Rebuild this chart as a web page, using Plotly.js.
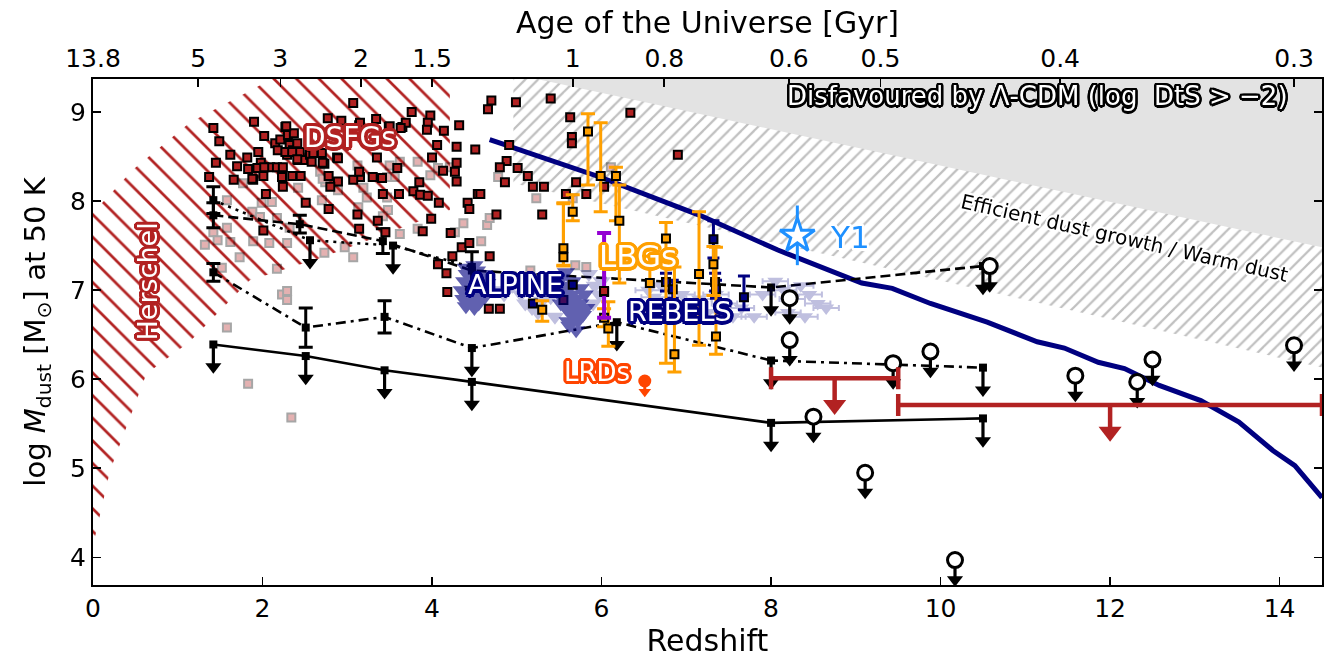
<!DOCTYPE html>
<html><head><meta charset="utf-8">
<script src="https://cdn.plot.ly/plotly-3.0.1.min.js"></script>
<style>body{margin:0;background:#fff}</style>
</head><body>
<div id="chart" style="width:1330px;height:659px"></div>
<script>
// ---------------- DATA ----------------
const ageTickZ = [0, 1.24, 2.21, 3.16, 4.0, 5.66, 6.74, 8.21, 9.29, 11.41, 14.17];
const ageTickLabels = ['13.8','5','3','2','1.5','1','0.8','0.6','0.5','0.4','0.3'];

// shaded regions (boundaries)
const disfavZ = [4.60, 14.60, 14.60];
const disfavM = [9.50, 7.46, 9.50];
const warmZ = [4.96, 14.60, 14.60, 4.96];
const warmM = [9.43, 7.46, 6.11, 8.20];
const herschelZ = [0.0, 0.47, 1.14, 2.17, 4.21, 4.21, 2.71, 1.85, 1.14, 0.63, 0.20, 0.0];
const herschelM = [7.87, 8.35, 8.88, 9.40, 9.40, 7.90, 7.37, 7.11, 6.42, 6.06, 4.97, 4.13];

// maximal dust model curve
const modelZ = [4.68, 5.98, 7.16, 8.08, 9.07, 9.43, 9.88, 10.55, 11.14, 11.46, 11.86, 12.17, 12.58, 13.07, 13.52, 13.92, 14.18, 14.5];
const modelM = [8.69, 8.27, 7.84, 7.45, 7.08, 7.02, 6.85, 6.64, 6.42, 6.35, 6.19, 6.12, 5.93, 5.76, 5.52, 5.20, 5.03, 4.67];

// stacked / population curves (err null = upper limit)
const solidZ = [1.42, 2.51, 3.44, 4.47, 8.0, 10.5];
const solidM = [6.39, 6.26, 6.10, 5.97, 5.51, 5.56];
const solidErr = [null, null, null, null, null, null];
const dashdotZ = [1.42, 2.51, 3.44, 4.47, 6.18, 8.0, 10.5];
const dashdotM = [7.20, 6.58, 6.70, 6.35, 6.64, 6.21, 6.13];
const dashdotErr = [0.10, 0.22, 0.18, null, null, null, null];
const dashedZ = [1.42, 2.44, 3.42, 4.47, 8.0, 10.5];
const dashedM = [7.84, 7.74, 7.55, 7.22, 7.03, 7.27];
const dashedErr = [0.14, 0.10, 0.14, 0.21, null, null];
const dottedZ = [1.42, 2.56, 3.54, 4.47];
const dottedM = [8.01, 7.56, 7.50, 7.26];
const dottedErr = [0.15, null, null, null];

// high-z individual upper limits (open circles)
const circZ = [8.22, 8.22, 8.50, 9.11, 9.44, 9.88, 10.17, 10.58, 11.59, 12.32, 12.50, 14.17];
const circM = [6.91, 6.44, 5.58, 4.95, 6.18, 6.31, 3.97, 7.27, 6.04, 5.97, 6.22, 6.38];

// stacked high-z limits (red bars)
const redBarZ = [8.75, 12.0];
const redBarHalfWidth = [0.75, 2.5];
const redBarM = [6.01, 5.71];

// Y1 and LRDs
const y1Z = [8.31], y1M = [7.61], y1Up = [0.34], y1Lo = [0.33];
const lrdZ = [6.51], lrdM = [5.98];

// DSFGs
const dsfgPts = [[1.42,8.82],[1.49,8.67],[1.45,8.43],[1.37,8.27],[1.62,8.52],[1.70,8.39],[1.66,8.24],[1.90,8.89],[2.02,8.73],[1.83,8.36],
[1.82,8.49],[1.95,8.55],[1.98,8.43],[1.89,8.24],[2.01,8.28],[2.04,8.08],[2.24,8.16],[2.23,8.27],[2.09,8.38],[2.17,8.38],
[2.24,8.38],[2.15,8.65],[2.18,8.57],[2.21,8.69],[2.27,8.83],[2.30,8.74],[2.37,8.76],[2.32,8.63],[2.29,8.52],[2.36,8.57],
[2.44,8.55],[2.42,8.46],[2.48,8.46],[2.56,8.52],[2.35,8.28],[2.45,8.28],[2.51,7.98],[2.73,8.42],[2.88,8.49],[2.78,8.28],
[2.89,8.22],[2.78,7.91],[3.07,9.10],[2.77,8.93],[2.93,8.90],[3.14,8.85],[3.34,8.92],[3.35,8.49],[3.49,8.83],[3.65,8.83],
[3.69,8.88],[3.76,9.00],[3.98,8.96],[3.95,8.88],[3.94,8.80],[4.14,8.79],[4.32,8.85],[4.06,8.63],[4.29,8.61],[4.00,8.49],
[4.29,8.43],[4.13,8.34],[4.29,8.22],[3.85,8.21],[3.78,8.11],[3.86,8.07],[3.95,8.06],[3.61,8.08],[3.42,8.08],[3.30,8.27],
[3.41,8.26],[3.15,8.27],[3.07,8.24],[3.12,7.85],[3.36,7.78],[3.89,7.66],[3.99,7.80],[4.08,7.98],[4.22,7.64],[4.35,7.48],
[4.24,7.38],[4.07,7.29],[4.17,7.19],[4.18,6.98],[4.42,7.98],[2.01,7.67],[3.59,8.37],[3.14,8.33],[4.51,8.58],[4.44,7.91],
[4.54,8.08],[4.44,7.53],[3.45,7.65],[3.14,7.69],[3.50,8.84],[3.63,8.82],[3.15,8.88],[2.89,8.48],[2.80,8.16],[4.70,9.13],
[4.66,9.03],[4.99,9.11],[5.40,9.15],[6.34,8.99],[5.63,8.94],[5.65,8.72],[5.65,8.65],[6.90,8.52],[4.88,8.45],[4.91,8.63],
[4.80,8.38],[5.01,8.37],[4.27,8.33],[4.86,8.21],[5.13,8.28],[5.19,8.16],[5.32,8.16],[5.70,8.21],[6.03,8.16],[5.82,8.08],
[5.58,8.08],[4.57,8.08],[5.30,7.85],[4.76,7.85],[4.68,7.38],[4.67,6.79],[4.80,6.79],[6.03,6.98],[5.55,6.89],[2.28,8.84],
[2.41,8.65],[2.27,8.55],[2.35,8.55],[2.60,8.54],[2.41,8.47],[2.58,8.44],[2.70,8.54],[2.71,8.43],[1.94,8.37],[2.02,8.38],
[1.88,8.25]];
const dsfgFaintPts = [[1.77,8.20],[1.58,8.01],[1.99,7.98],[2.11,7.99],[2.70,8.01],[2.68,8.33],[2.74,8.21],[2.42,8.15],[1.88,7.88],[1.97,7.82],
[2.17,7.81],[2.32,7.70],[1.58,7.70],[1.42,7.65],[1.32,7.51],[1.47,7.56],[1.62,7.54],[1.73,7.37],[1.89,7.55],[2.08,7.53],
[2.29,7.53],[2.17,7.24],[1.52,7.25],[2.23,6.95],[2.29,6.99],[2.29,6.89],[1.58,6.58],[1.83,5.95],[2.34,5.57],[2.73,7.42],
[2.97,7.48],[3.07,7.37],[3.12,8.40],[3.50,8.40],[3.62,8.44],[3.83,8.44],[3.56,8.27],[3.47,8.27],[3.19,8.15],[3.23,8.04],
[3.47,8.04],[3.48,7.90],[3.42,7.83],[3.13,7.93],[2.71,8.25],[2.89,8.12],[3.62,7.63],[3.83,7.69],[4.27,7.65],[4.37,7.75],
[3.98,8.29],[4.21,8.38],[4.07,8.37],[6.11,8.38],[5.23,8.03],[5.66,8.03],[4.65,7.73],[4.68,7.81],[4.58,7.55],[4.78,8.27],
[5.69,7.28],[5.82,7.26],[5.16,7.22]];

// ALPINE
const alpineLimPts = [[4.40,7.25],[4.45,7.20],[4.50,7.28],[4.55,7.15],[4.38,7.10],[4.48,7.05],[4.58,7.02],[4.42,6.98],[4.52,6.95],[4.62,6.92],
[4.45,6.88],[4.55,6.85],[4.40,6.82],[4.50,6.80],[4.60,6.98],[4.47,7.12],[4.35,7.00],[4.65,7.08],[4.53,7.22],[4.43,6.92],
[4.57,6.88],[4.49,6.99],[4.41,7.18],[4.61,7.18],[4.37,6.90],
[5.50,7.10],[5.55,7.05],[5.60,7.00],[5.65,6.95],[5.70,6.90],[5.75,6.85],[5.52,6.85],[5.58,6.80],[5.62,6.75],[5.68,6.70],
[5.72,6.65],[5.78,6.72],[5.80,6.95],[5.56,6.92],[5.66,7.10],[5.62,6.60],[5.70,6.55],[5.75,7.02],[5.50,6.95],[5.82,6.80],
[5.58,7.20],[5.68,6.82],[5.64,6.88],[5.60,6.65],[5.73,6.78]];
const alpineFaintPts = [[5.10,6.85],[5.18,6.80],[5.25,6.75],[5.30,6.88],[5.05,6.95],[5.40,6.92],[5.85,7.18],[5.92,7.05],[5.97,6.95],[6.00,7.10],
[4.75,7.00],[4.85,6.95],[5.35,7.15],[4.95,7.05],[5.45,6.70],[5.90,6.85]];
const alpineDetZ = [5.19, 5.66];
const alpineDetM = [6.85, 7.06];

// REBELS
const rebelsLimPts = [[6.55,7.00],[6.62,6.92],[6.70,7.05],[6.80,6.85],[6.95,6.95],[7.05,6.80],[7.15,6.90],[7.25,6.75],[7.45,6.85],[7.55,6.70],
[7.65,6.80],[7.80,6.70],[7.90,6.95],[8.05,7.10],[8.15,7.00],[8.25,6.90],[8.35,7.05],[8.45,6.95],[8.55,6.85],[8.65,6.80],
[8.40,6.70],[8.20,6.75],[7.35,6.95],[6.88,6.70]];
const rebelsDetZ = [7.32, 6.76, 6.84, 7.34, 7.35, 7.68];
const rebelsDetM = [7.57, 7.09, 7.01, 7.09, 7.01, 6.92];
const rebelsDetUp = [0.21, 0.10, 0.10, 0.10, 0.10, 0.24];
const rebelsDetLo = [0.21, 0.10, 0.10, 0.10, 0.10, 0.14];

// LBGs
const lbgZ = [5.84, 5.99, 6.17, 6.21, 5.66, 5.55, 5.55, 6.76, 7.15, 6.57, 5.30, 6.03, 6.08, 6.86, 7.35, 7.32];
const lbgM = [8.78, 8.28, 8.28, 7.78, 7.88, 7.47, 7.37, 7.58, 7.18, 7.08, 6.78, 6.69, 6.57, 6.28, 6.48, 7.29];
const lbgUp = [0.20, 0.60, 0.10, 0.40, 0.19, 0.51, 0.60, 0.18, 0.70, 0.30, 0.10, 0.10, 0.30, 0.98, 1.00, 0.20];
const lbgLo = [0.60, 0.40, 0.50, 0.70, 0.10, 0.19, 0.10, 1.40, 0.80, 0.30, 0.13, 0.10, 0.20, 0.20, 0.20, 0.35];
const purpleZ = [6.03], purpleM = [6.99], purpleUp = [0.65], purpleLo = [0.30];

// ---------------- DRAWING ----------------
const FONT = 'DejaVu Sans';
const NAVY = '#000080', RED = '#b22222', ORANGE = '#ffa000', BLUE = '#1e90ff', LRD = '#ff4500';
const traces = [];
const col = (pts, i) => pts.map(p => p[i]);

function arrows(xs, ys, stem, color, lw, head){
  const sx = [], sy = [];
  xs.forEach((x, i) => { sx.push(x, x, null); sy.push(ys[i], ys[i] - stem, null); });
  return [
    {type:'scatter', mode:'lines', x:sx, y:sy, line:{color, width:lw}, hoverinfo:'skip', showlegend:false},
    {type:'scatter', mode:'markers', x:xs, y:ys.map(v => v - stem),
     marker:{symbol:'triangle-down', size:head, color, line:{width:0}}, hoverinfo:'skip', showlegend:false}
  ];
}

// regions
traces.push({type:'scatter', x:disfavZ, y:disfavM, fill:'toself', fillcolor:'#e3e3e3', mode:'lines', line:{width:0}, hoverinfo:'skip'});
traces.push({type:'scatter', x:warmZ, y:warmM, fill:'toself', fillcolor:'rgba(0,0,0,0)', mode:'lines', line:{width:0},
  fillpattern:{shape:'/', fgcolor:'#c0c0c0', bgcolor:'rgba(0,0,0,0)', size:9, solidity:0.25}, hoverinfo:'skip'});
traces.push({type:'scatter', x:herschelZ, y:herschelM, fill:'toself', fillcolor:'rgba(0,0,0,0)', mode:'lines', line:{width:0},
  fillpattern:{shape:'\\', fgcolor:RED, bgcolor:'rgba(0,0,0,0)', size:16, solidity:0.17}, hoverinfo:'skip'});

// model line
traces.push({type:'scatter', mode:'lines', x:modelZ, y:modelM, line:{color:NAVY, width:5}, hoverinfo:'skip'});

// faint DSFGs
traces.push({type:'scatter', mode:'markers', x:col(dsfgFaintPts,0), y:col(dsfgFaintPts,1), opacity:0.35,
  marker:{symbol:'square', size:8, color:RED, line:{color:'black', width:2}}, hoverinfo:'skip'});

// black population curves
function population(Z, M, E, dash){
  traces.push({type:'scatter', mode:'lines', x:Z, y:M, line:{color:'black', width:2.6, dash}, hoverinfo:'skip'});
  const dz = [], dm = [], de = [], uz = [], um = [];
  Z.forEach((z, i) => { if (E[i] !== null) { dz.push(z); dm.push(M[i]); de.push(E[i]); } else { uz.push(z); um.push(M[i]); } });
  if (dz.length) traces.push({type:'scatter', mode:'markers', x:dz, y:dm,
    marker:{symbol:'square', size:8, color:'black'},
    error_y:{type:'data', array:de, color:'black', thickness:3, width:7}, hoverinfo:'skip'});
  if (uz.length) {
    arrows(uz, um, 0.25, 'black', 3.2, 14).forEach(t => traces.push(t));
    traces.push({type:'scatter', mode:'markers', x:uz, y:um, marker:{symbol:'square', size:8, color:'black'}, hoverinfo:'skip'});
  }
}
population(solidZ, solidM, solidErr, 'solid');
population(dashdotZ, dashdotM, dashdotErr, '10px,5px,3px,5px');
population(dashedZ, dashedM, dashedErr, '10px,5px');
population(dottedZ, dottedM, dottedErr, '3px,5px');

// bright DSFGs
traces.push({type:'scatter', mode:'markers', x:col(dsfgPts,0), y:col(dsfgPts,1),
  marker:{symbol:'square', size:8, color:RED, line:{color:'black', width:2}}, hoverinfo:'skip'});

// ALPINE
traces.push({type:'scatter', mode:'markers', x:col(alpineFaintPts,0), y:col(alpineFaintPts,1), opacity:0.25,
  marker:{symbol:'triangle-down', size:16, color:NAVY}, hoverinfo:'skip'});
traces.push({type:'scatter', mode:'markers', x:col(alpineLimPts,0), y:col(alpineLimPts,1), opacity:0.62,
  marker:{symbol:'triangle-down', size:16, color:NAVY}, hoverinfo:'skip'});
traces.push({type:'scatter', mode:'markers', x:alpineDetZ, y:alpineDetM,
  marker:{symbol:'square', size:8, color:NAVY, line:{color:'black', width:2}}, hoverinfo:'skip'});

// REBELS
traces.push({type:'scatter', mode:'markers', x:col(rebelsLimPts,0), y:col(rebelsLimPts,1), opacity:0.25,
  marker:{symbol:'triangle-down', size:14, color:NAVY},
  error_x:{type:'constant', value:0.15, color:NAVY, thickness:2, width:3}, hoverinfo:'skip'});
traces.push({type:'scatter', mode:'markers', x:rebelsDetZ, y:rebelsDetM,
  marker:{symbol:'square', size:8, color:NAVY, line:{color:'black', width:2}},
  error_y:{type:'data', symmetric:false, array:rebelsDetUp, arrayminus:rebelsDetLo, color:NAVY, thickness:3, width:6}, hoverinfo:'skip'});

// LBGs
traces.push({type:'scatter', mode:'markers', x:lbgZ, y:lbgM,
  marker:{symbol:'square', size:8, color:ORANGE, line:{color:'black', width:2}},
  error_y:{type:'data', symmetric:false, array:lbgUp, arrayminus:lbgLo, color:ORANGE, thickness:3, width:7}, hoverinfo:'skip'});
traces.push({type:'scatter', mode:'markers', x:purpleZ, y:purpleM,
  marker:{symbol:'square', size:8, color:RED, line:{color:'black', width:2}},
  error_y:{type:'data', symmetric:false, array:purpleUp, arrayminus:purpleLo, color:'#9400d3', thickness:4, width:7}, hoverinfo:'skip'});

// high-z circles with arrows
arrows(circZ, circM, 0.22, 'black', 3.2, 14).forEach(t => traces.push(t));
traces.push({type:'scatter', mode:'markers', x:circZ, y:circM,
  marker:{symbol:'circle', size:15, color:'white', line:{color:'black', width:3}}, hoverinfo:'skip'});

// red stacked bars
traces.push({type:'scatter', mode:'markers', x:redBarZ, y:redBarM, marker:{size:1, color:'rgba(0,0,0,0)'},
  error_x:{type:'data', array:redBarHalfWidth, color:RED, thickness:4.5, width:11}, hoverinfo:'skip'});
arrows(redBarZ, redBarM, 0.3, RED, 4.5, 20).forEach(t => traces.push(t));

// LRD
arrows(lrdZ, lrdM, 0.12, LRD, 3, 11).forEach(t => traces.push(t));
traces.push({type:'scatter', mode:'markers', x:lrdZ, y:lrdM, marker:{symbol:'circle', size:13, color:LRD}, hoverinfo:'skip'});

// Y1
traces.push({type:'scatter', mode:'markers', x:y1Z, y:y1M,
  marker:{symbol:'star', size:26, color:'white', line:{color:BLUE, width:3}},
  error_y:{type:'data', symmetric:false, array:y1Up, arrayminus:y1Lo, color:BLUE, thickness:3, width:0}, hoverinfo:'skip'});

// dummy for top axis
traces.push({type:'scatter', mode:'markers', x:[0], y:[null], xaxis:'x2', hoverinfo:'skip', showlegend:false});

function outline(c, w){
  const s = [];
  for (let a = 0; a < 16; a++) { const t = a * Math.PI / 8; s.push(`${(w*Math.cos(t)).toFixed(1)}px ${(w*Math.sin(t)).toFixed(1)}px 0 ${c}`); }
  return s.join(', ');
}
function label(text, x, y, size, fill, stroke, w, angle){
  return {text, x, y, xref:'x', yref:'y', showarrow:false, textangle:angle || 0,
    font:{family:FONT, size, color:fill, shadow:outline(stroke, w)}};
}
const annotations = [
  label('Disfavoured by Λ-CDM (log  DtS > −2)', 11.14, 9.18, 26, 'white', 'black', 2.5),
  label('Efficient dust growth / Warm dust', 12.17, 7.58, 20, 'black', 'white', 2, 12.8),
  label('Y1', 8.93, 7.60, 31, BLUE, 'white', 2.5),
  label('DSFGs', 3.03, 8.71, 28, 'white', RED, 3.5),
  label('Herschel', 0.64, 7.10, 27, 'white', RED, 3, -90),
  label('ALPINE', 4.98, 7.06, 27, 'white', NAVY, 3.5),
  label('REBELS', 6.93, 6.76, 27, 'white', NAVY, 3.5),
  label('LBGs', 6.43, 7.38, 31, 'white', ORANGE, 3.5),
  label('LRDs', 5.95, 6.08, 26, 'white', LRD, 3)
];

const axisCommon = {showgrid:false, zeroline:false, ticks:'inside', ticklen:8, tickwidth:1.6, tickcolor:'black',
  showline:true, linewidth:2, linecolor:'black', tickfont:{family:FONT, size:25, color:'black'}};
const layout = {
  width:1330, height:659, margin:{l:93, r:8, t:79, b:74},
  paper_bgcolor:'white', plot_bgcolor:'white', showlegend:false,
  font:{family:FONT, color:'black'},
  xaxis:Object.assign({}, axisCommon, {range:[0,14.5], tickvals:[0,2,4,6,8,10,12,14],
    title:{text:'Redshift', font:{family:FONT, size:30}, standoff:4}}),
  xaxis2:Object.assign({}, axisCommon, {overlaying:'x', side:'top', range:[0,14.5], tickvals:ageTickZ, ticktext:ageTickLabels,
    title:{text:'Age of the Universe [Gyr]', font:{family:FONT, size:30}, standoff:2}}),
  yaxis:Object.assign({}, axisCommon, {range:[3.69,9.37], tickvals:[4,5,6,7,8,9], mirror:'ticks',
    title:{text:'log <i>M</i><sub>dust</sub> [M<sub>⊙</sub>] at 50 K', font:{family:FONT, size:29}, standoff:16}}),
  annotations
};
Plotly.newPlot('chart', traces, layout, {displayModeBar:false, staticPlot:true});
</script>
</body></html>
